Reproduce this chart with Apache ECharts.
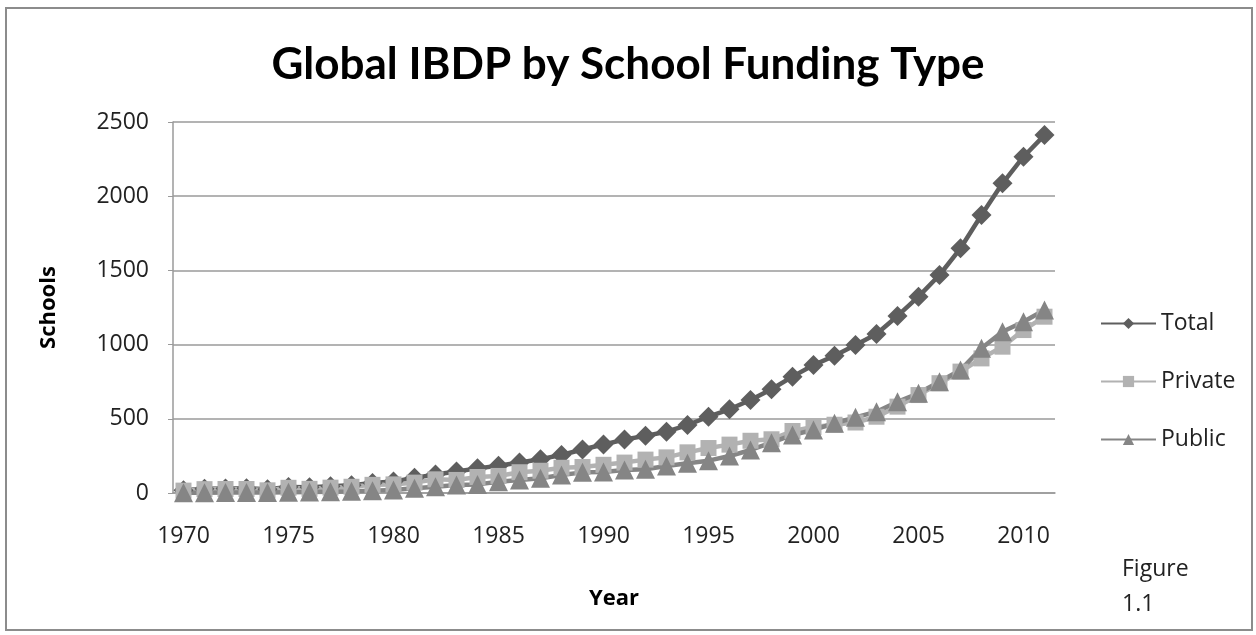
<!DOCTYPE html>
<html>
<head>
<meta charset="utf-8">
<script src="https://cdn.jsdelivr.net/npm/echarts@6/dist/echarts.min.js"></script>
<style>
html,body{margin:0;padding:0;background:#fff;}
#chart{width:1256px;height:635px;}
</style>
</head>
<body>
<div id="chart"></div>
<script>
const years = [];
for (let y = 1970; y <= 2011; y++) years.push(String(y));

const totalSchools = [18, 28, 30, 32, 25, 40, 38, 45, 52, 67, 78, 102, 125, 145, 166, 183, 205, 228, 256, 293, 327, 360, 385, 413, 458, 514, 564, 627, 699, 784, 862, 925, 997, 1071, 1193, 1323, 1469, 1649, 1873, 2087, 2266, 2412];
const privateSchools = [16, 26, 27, 27, 18, 35, 28, 36, 42, 55, 58, 70, 92, 88, 108, 115, 140, 150, 170, 175, 190, 205, 225, 240, 274, 303, 326, 352, 362, 418, 445, 460, 475, 514, 582, 660, 740, 818, 907, 986, 1098, 1188];
const publicSchools = [2, 2, 3, 3, 4, 5, 6, 9, 12, 16, 20, 32, 42, 54, 58, 76, 88, 99, 121, 139, 142, 155, 160, 182, 200, 218, 249, 290, 339, 391, 425, 470, 510, 548, 615, 672, 750, 829, 975, 1087, 1154, 1233];

const chart = echarts.init(document.getElementById('chart'));
const FONT = 'Open Sans';
chart.setOption({
  animation: false,
  backgroundColor: '#ffffff',
  title: {
    text: 'Global IBDP by School Funding Type',
    left: 'center',
    top: 38,
    textStyle: {fontFamily: 'Lato', fontWeight: 'bold', fontSize: 44, color: '#000'}
  },
  graphic: [
    {type: 'rect', shape: {x: 6, y: 8, width: 1246, height: 622}, style: {fill: 'none', stroke: '#8c8c8c', lineWidth: 2}, z: -1},
    {type: 'text', left: 1122, top: 552, style: {text: 'Figure\n1.1', fontFamily: FONT, fontSize: 23, lineHeight: 35, fill: '#222'}}
  ],
  legend: {
    orient: 'vertical',
    left: 1095,
    top: 307,
    itemWidth: 55,
    itemHeight: 14,
    itemGap: 35,
    textStyle: {fontFamily: FONT, fontSize: 23, color: '#222'},
    data: ['Total', 'Private', 'Public']
  },
  grid: {left: 173, right: 201, top: 122, bottom: 142, containLabel: false},
  xAxis: {
    type: 'category',
    data: years,
    boundaryGap: true,
    name: 'Year',
    nameLocation: 'middle',
    nameGap: 95,
    nameTextStyle: {fontFamily: FONT, fontWeight: 'bold', fontSize: 22, color: '#000'},
    axisLine: {lineStyle: {color: '#9a9a9a', width: 1.5}},
    axisTick: {show: false},
    axisLabel: {interval: 4, margin: 32, fontFamily: FONT, fontSize: 23, color: '#222'}
  },
  yAxis: {
    type: 'value',
    min: 0, max: 2500, interval: 500,
    name: 'Schools',
    nameLocation: 'middle',
    nameGap: 113,
    nameRotate: 90,
    nameTextStyle: {fontFamily: FONT, fontWeight: 'bold', fontSize: 22, color: '#000'},
    axisLine: {show: true, lineStyle: {color: '#9a9a9a', width: 1.5}},
    axisTick: {show: true, length: 5, lineStyle: {color: '#9a9a9a'}},
    axisLabel: {margin: 24, fontFamily: FONT, fontSize: 23, color: '#222', formatter: v => String(v)},
    splitLine: {lineStyle: {color: '#9a9a9a', width: 1.5}}
  },
  series: [
    {name: 'Total', type: 'line', data: totalSchools, symbol: 'diamond', symbolSize: 20, showAllSymbol: true, clip: false,
     lineStyle: {color: '#5e5e5e', width: 4.5}, itemStyle: {color: '#5e5e5e'}},
    {name: 'Private', type: 'line', data: privateSchools, symbol: 'rect', symbolSize: 16, showAllSymbol: true, clip: false,
     lineStyle: {color: '#b2b2b2', width: 4.5}, itemStyle: {color: '#b2b2b2'}},
    {name: 'Public', type: 'line', data: publicSchools, symbol: 'triangle', symbolSize: 19, showAllSymbol: true, clip: false,
     lineStyle: {color: '#858585', width: 4.5}, itemStyle: {color: '#858585'}}
  ]
});
</script>
</body>
</html>
